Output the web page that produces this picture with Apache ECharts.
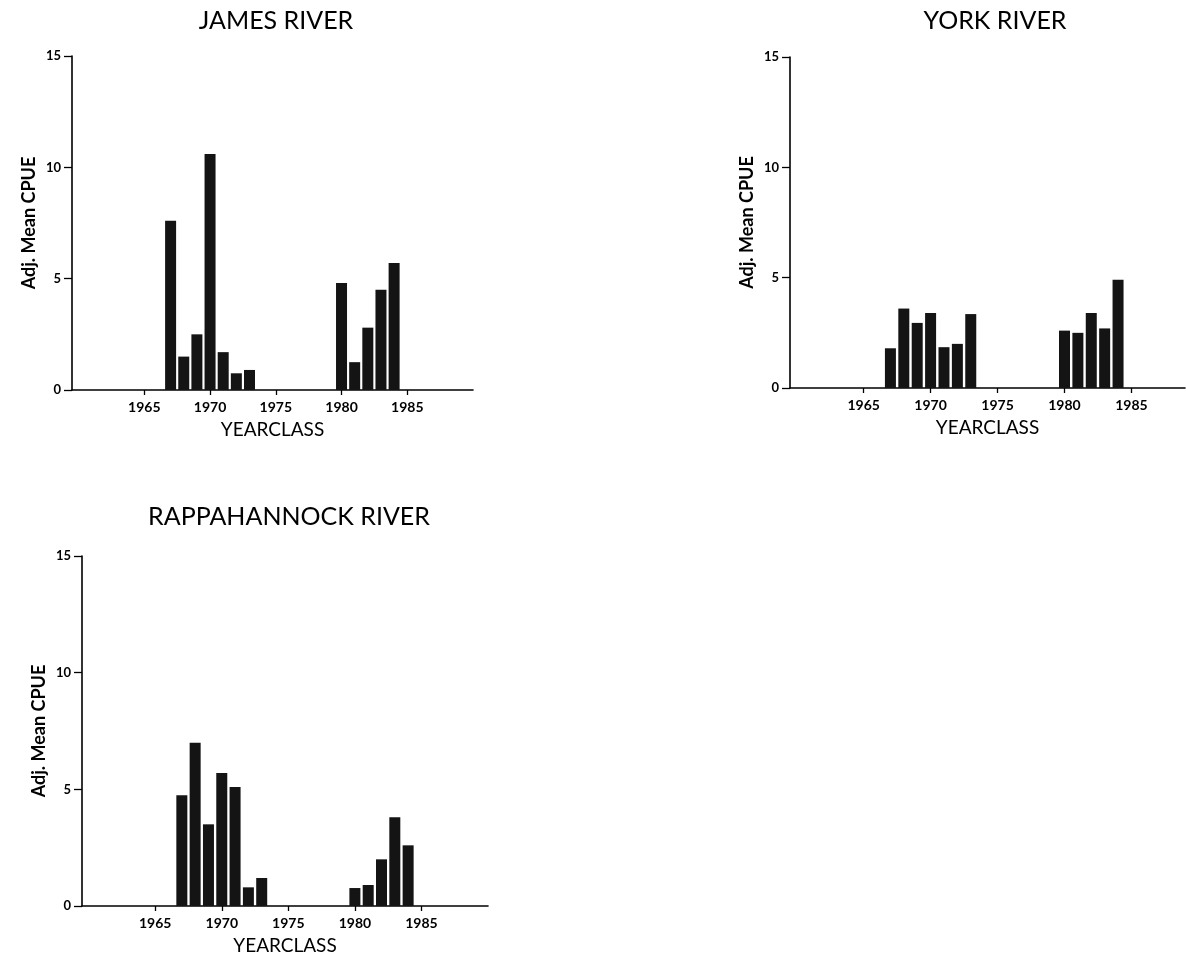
<!DOCTYPE html>
<html><head><meta charset="utf-8">
<script src="https://cdn.jsdelivr.net/npm/echarts@6/dist/echarts.min.js"></script>
<style>html,body{margin:0;padding:0;background:#fff}#c{width:1186px;height:957px}</style>
</head><body><div id="c"></div>
<script>
const years = [1967,1968,1969,1970,1971,1972,1973,1980,1981,1982,1983,1984];
const jamesValues = [7.6,1.5,2.5,10.6,1.7,0.75,0.9,4.8,1.25,2.8,4.5,5.7];
const yorkValues = [1.8,3.6,2.95,3.4,1.85,2.0,3.35,2.6,2.5,3.4,2.7,4.9];
const rappValues = [4.75,7.0,3.5,5.7,5.1,0.8,1.2,0.77,0.9,2.0,3.8,2.6];
const xTicks = [1965,1970,1975,1980,1985];
const titles = ['JAMES RIVER','YORK RIVER','RAPPAHANNOCK RIVER'];
const yName = 'Adj. Mean CPUE';
const xName = 'YEARCLASS';

const chart = echarts.init(document.getElementById('c'));
const font = 'Lato, "DejaVu Sans", sans-serif';
const grids = [
  {left:72, top:56, right:713, bottom:567},
  {left:790, top:57, right:1, bottom:569},
  {left:82, top:556, right:698, bottom:51}
];
const xMax = [1990, 1989, 1990];
function xAxis(i){
  return {gridIndex:i, type:'value', min:1959.5, max:xMax[i],
    name:xName, nameLocation:'middle', nameGap:30,
    nameTextStyle:{fontFamily:font, fontSize:19, color:'#000'},
    axisLine:{lineStyle:{color:'#000', width:1.6}},
    axisTick:{show:true, customValues:xTicks, length:5, lineStyle:{color:'#000', width:1.3}},
    axisLabel:{customValues:xTicks, formatter:v=>String(v), fontFamily:font, fontSize:14, fontWeight:'bold', color:'#000', margin:10},
    splitLine:{show:false}};
}
function yAxis(i){
  return {gridIndex:i, type:'value', min:0, max:15, interval:5,
    name:yName, nameLocation:'middle', nameGap:34,
    nameTextStyle:{fontFamily:font, fontSize:18, fontWeight:'bold', color:'#000'},
    axisLine:{show:true, lineStyle:{color:'#000', width:1.6}},
    axisTick:{show:true, length:8, lineStyle:{color:'#000', width:1.3}},
    axisLabel:{fontFamily:font, fontSize:13, fontWeight:'bold', color:'#000', margin:11},
    splitLine:{show:false}};
}
const allValues = [jamesValues, yorkValues, rappValues];
const titleStyle = {fontFamily:font, fontSize:25, fontWeight:'normal', color:'#000'};
chart.setOption({
  animation:false,
  title:[
    {text:titles[0], left:271, top:3, textAlign:'center', textStyle:titleStyle},
    {text:titles[1], left:990, top:3, textAlign:'center', textStyle:titleStyle},
    {text:titles[2], left:284, top:499, textAlign:'center', textStyle:titleStyle}
  ],
  grid:grids,
  xAxis:[0,1,2].map(xAxis),
  yAxis:[0,1,2].map(yAxis),
  series:allValues.map((vals,i)=>({
    type:'bar', xAxisIndex:i, yAxisIndex:i, barWidth:11,
    itemStyle:{color:'#141414'},
    data:years.map((y,k)=>[y, vals[k]])
  }))
});
</script></body></html>
